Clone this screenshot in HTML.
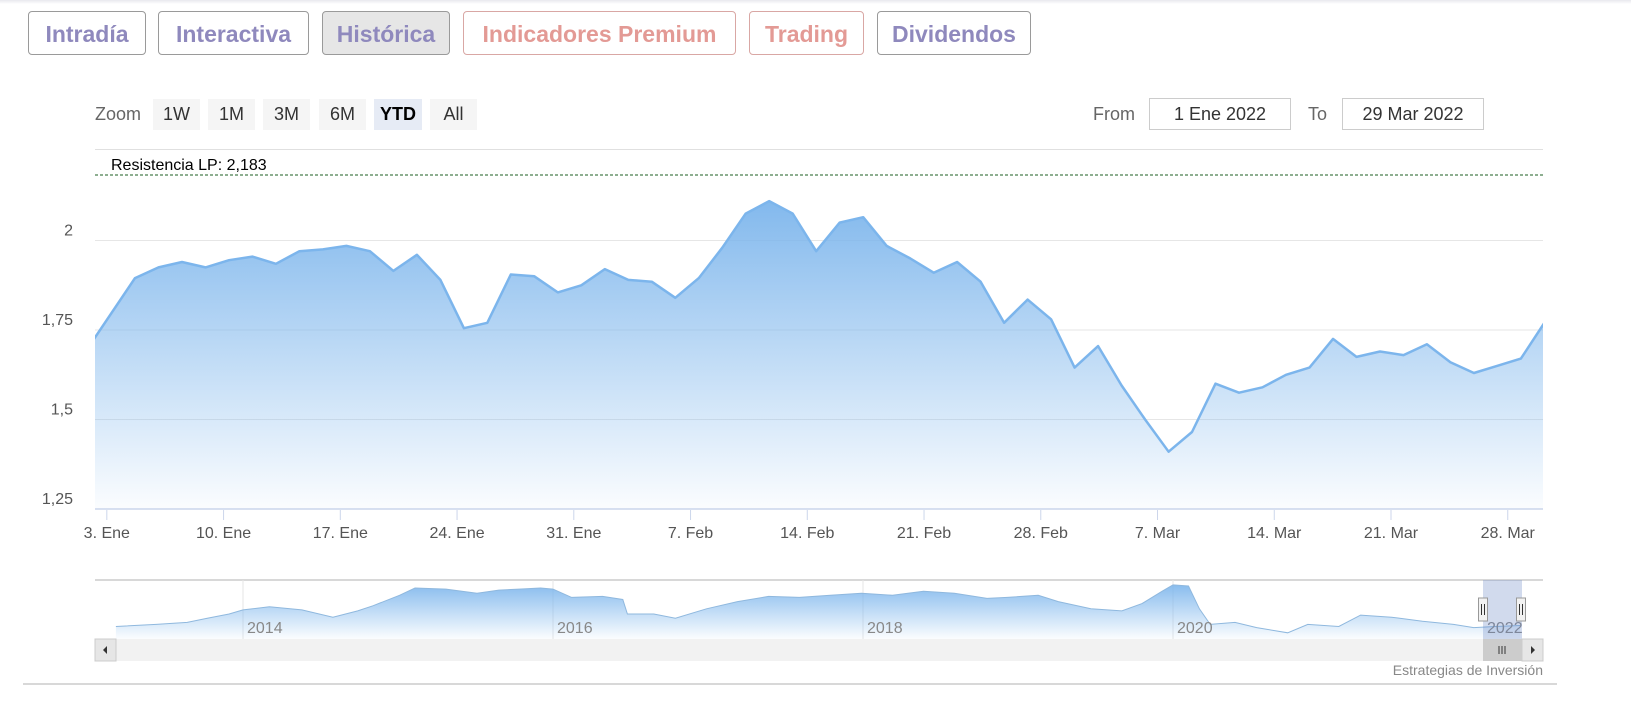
<!DOCTYPE html>
<html><head><meta charset="utf-8">
<style>
body{margin:0;width:1631px;height:714px;background:#fff;overflow:hidden;font-family:"Liberation Sans",sans-serif;position:relative}
.tab{position:absolute;top:11px;height:44px;border:1px solid #9a9a9a;border-radius:4px;box-sizing:border-box;font-weight:bold;font-size:23px;line-height:44px;text-align:center;color:#8f89bd;background:#fff}
.tab.red{color:#e39a95;border-color:#d9a7a4}
.tab.act{background:#e6e6e6}
.zb{position:absolute;top:99px;height:31px;background:#f5f5f5;font-size:18px;line-height:31px;text-align:center;color:#333}
.inp{position:absolute;top:98px;height:32px;border:1px solid #ccc;box-sizing:border-box;font-size:18px;line-height:30px;text-align:center;color:#333}
.lbl{position:absolute;top:99px;font-size:18px;line-height:31px;color:#666}
</style></head><body>
<div style="position:absolute;left:0;top:0;width:1631px;height:4px;background:linear-gradient(#e8e8ee,#fff)"></div>
<div class="tab" style="left:28px;width:118px">Intradía</div>
<div class="tab" style="left:158px;width:151px">Interactiva</div>
<div class="tab act" style="left:322px;width:128px">Histórica</div>
<div class="tab red" style="left:463px;width:273px">Indicadores Premium</div>
<div class="tab red" style="left:749px;width:115px">Trading</div>
<div class="tab" style="left:877px;width:154px">Dividendos</div>

<div class="lbl" style="left:95px">Zoom</div>
<div class="zb" style="left:153px;width:47px">1W</div>
<div class="zb" style="left:208px;width:47px">1M</div>
<div class="zb" style="left:263px;width:47px">3M</div>
<div class="zb" style="left:319px;width:47px">6M</div>
<div class="zb" style="left:374px;width:48px;background:#e6ebf5;color:#000;font-weight:bold">YTD</div>
<div class="zb" style="left:430px;width:47px">All</div>
<div class="lbl" style="left:1093px">From</div>
<div class="inp" style="left:1149px;width:142px">1 Ene 2022</div>
<div class="lbl" style="left:1308px">To</div>
<div class="inp" style="left:1342px;width:142px">29 Mar 2022</div>

<svg id="c" width="1631" height="714" style="position:absolute;left:0;top:0">
<defs>
<linearGradient id="g" x1="0" y1="0" x2="0" y2="1"><stop offset="0" stop-color="#7cb5ec" stop-opacity="0.95"/><stop offset="1" stop-color="#7cb5ec" stop-opacity="0.03"/></linearGradient>
<linearGradient id="g2" x1="0" y1="0" x2="0" y2="1"><stop offset="0" stop-color="#7cb5ec" stop-opacity="0.9"/><stop offset="1" stop-color="#7cb5ec" stop-opacity="0.03"/></linearGradient>
<clipPath id="cp"><rect x="95" y="149" width="1448" height="361"/></clipPath>
<clipPath id="cp2"><rect x="95" y="580" width="1448" height="59"/></clipPath>
</defs>
</svg>
<div style="position:absolute;right:88px;top:662px;font-size:14px;color:#888">Estrategias de Inversión</div>
<div style="position:absolute;left:23px;top:683px;width:1534px;height:2px;background:#d8d8d8"></div>
<script>
const prices=[1.70,1.895,1.925,1.94,1.925,1.945,1.955,1.935,1.97,1.975,1.985,1.97,1.915,1.96,1.89,1.755,1.77,1.905,1.90,1.855,1.875,1.92,1.89,1.885,1.84,1.895,1.98,2.075,2.11,2.075,1.97,2.05,2.065,1.985,1.95,1.91,1.94,1.885,1.77,1.835,1.78,1.645,1.705,1.595,1.50,1.41,1.465,1.60,1.575,1.59,1.625,1.645,1.725,1.675,1.69,1.68,1.71,1.66,1.63,1.65,1.67,1.77];
const dayIndex=[-2,0,1,2,3,4,5,6,7,8,9,10,11,12,13,14,15,16,17,18,19,20,21,22,23,24,25,26,27,28,29,30,31,32,33,34,35,36,37,38,39,40,41,42,43,44,45,46,47,48,49,50,51,52,53,54,55,56,57,58,59,60];
const xTickLabels=["3. Ene","10. Ene","17. Ene","24. Ene","31. Ene","7. Feb","14. Feb","21. Feb","28. Feb","7. Mar","14. Mar","21. Mar","28. Mar"];
const xTickIndex=[-1.2,3.77,8.74,13.71,18.68,23.65,28.62,33.59,38.56,43.53,48.5,53.47,58.44];
const yTicks=[1.25,1.5,1.75,2];
const yTickLabels=["1,25","1,5","1,75","2"];
const resistance=2.183;
const navYears=[2013.18,2013.44,2013.64,2013.77,2013.91,2014.0,2014.17,2014.38,2014.58,2014.74,2014.84,2015.01,2015.11,2015.31,2015.51,2015.65,2015.78,2015.92,2016.0,2016.12,2016.32,2016.45,2016.48,2016.65,2016.79,2016.99,2017.19,2017.39,2017.59,2017.79,2017.99,2018.19,2018.39,2018.59,2018.80,2018.93,2019.13,2019.26,2019.47,2019.67,2019.80,2019.93,2020.0,2020.10,2020.17,2020.24,2020.40,2020.54,2020.74,2020.87,2021.07,2021.21,2021.41,2021.61,2021.81,2021.94,2022.08,2022.24];
const navValues=[12,14,16,20,24,28,31,28,21,27,32,42,49,48,44,47,48,49,48,40,41,38,24,24,20,29,36,41,40,42,44,42,46,44,39,40,42,36,29,27,34,46,52,51,29,14,16,11,6,14,12,23,21,17,14,11,12,13];
const navYearLabels=["2014","2016","2018","2020","2022"];
const navYearTicks=[2014,2016,2018,2020,2022];

const NS="http://www.w3.org/2000/svg",svg=document.getElementById('c');
function mk(t,a,p){const e=document.createElementNS(NS,t);for(const k in a)e.setAttribute(k,a[k]);(p||svg).appendChild(e);return e;}
const X=i=>135+i*23.49;
const Y=v=>509-(v-1.25)/0.25*89.5;
const NX=y=>243+(y-2014)*155;
const NY=v=>639-v*1.04;

let e;
e=mk('line',{x1:95,x2:1543,y1:149.5,y2:149.5,stroke:'#e0e0e0'});


yTicks.forEach((v,k)=>{
 e=mk('line',{x1:95,x2:1543,y1:Y(v),y2:Y(v),stroke:k==0?'#ccd6eb':'#e6e6e6','stroke-width':k==0?1.5:1});
 
 
 e=mk('text',{x:73,y:Y(v)-5,'text-anchor':'end','font-size':16,fill:'#555'});e.textContent=yTickLabels[k];
 
 
});
const g=mk('g',{'clip-path':'url(#cp)'});
let d='';prices.forEach((v,i)=>{d+=(i?'L':'M')+X(dayIndex[i]).toFixed(1)+','+Y(v).toFixed(1);});
e=mk('path',{d:d+'L'+X(dayIndex[dayIndex.length-1])+',509L'+X(dayIndex[0])+',509Z',fill:'url(#g)'},g);


e=mk('path',{d:d,fill:'none',stroke:'#7cb5ec','stroke-width':2.5,'stroke-linejoin':'round'},g);


e=mk('line',{x1:95,x2:1543,y1:Y(resistance),y2:Y(resistance),stroke:'#1b5e20','stroke-dasharray':'3,2','stroke-width':1});


e=mk('text',{x:111,y:Y(resistance)-5,'font-size':16,fill:'#000'});e.textContent='Resistencia LP: '+String(resistance).replace('.',',');


xTickLabels.forEach((t,k)=>{
 const x=X(xTickIndex[k]);
 e=mk('line',{x1:x,x2:x,y1:510,y2:520,stroke:'#ccd6eb'});
 
 
 e=mk('text',{x:x,y:538,'text-anchor':'middle','font-size':16,fill:'#555'});e.textContent=t;
 
 
});
e=mk('line',{x1:95,x2:1543,y1:580,y2:580,stroke:'#ccc','stroke-width':1.5});


navYearTicks.forEach((y,k)=>{
 const x=NX(y);
 if(k<4){e=mk('line',{x1:x,x2:x,y1:580,y2:639,stroke:'#e6e6e6'});
 
 }
});
const g2=mk('g',{'clip-path':'url(#cp2)'});
let nd='';navValues.forEach((v,i)=>{nd+=(i?'L':'M')+NX(navYears[i]).toFixed(1)+','+NY(v).toFixed(1);});
e=mk('path',{d:nd+'L'+NX(navYears[navYears.length-1])+',639L'+NX(navYears[0])+',639Z',fill:'url(#g2)'},g2);


e=mk('path',{d:nd,fill:'none',stroke:'#8fb8de','stroke-width':1},g2);


navYearTicks.forEach((y,k)=>{
 e=mk('text',{x:NX(y)+4,y:633,'font-size':16,fill:'#888'});e.textContent=navYearLabels[k];
 
 
});
e=mk('rect',{x:1483,y:580,width:39,height:59,fill:'rgba(102,133,194,0.3)'});


[1483,1521].forEach(x=>{
 e=mk('rect',{x:x-4.5,y:598,width:9,height:23,fill:'#f2f2f2',stroke:'#999'});
 
 
 mk('line',{x1:x-1.5,x2:x-1.5,y1:604,y2:615,stroke:'#333'});mk('line',{x1:x+1.5,x2:x+1.5,y1:604,y2:615,stroke:'#333'});
});
e=mk('rect',{x:95,y:639,width:1448,height:22,fill:'#f2f2f2'});


e=mk('rect',{x:95,y:639,width:21,height:22,fill:'#e6e6e6',stroke:'#ccc'});


mk('path',{d:'M103,650L107,646L107,654Z',fill:'#333'});
e=mk('rect',{x:1483,y:639,width:39,height:22,fill:'#ccc'});


[1499,1502,1505].forEach(x=>mk('line',{x1:x,x2:x,y1:646,y2:654,stroke:'#333'}));
e=mk('rect',{x:1522,y:639,width:21,height:22,fill:'#e6e6e6',stroke:'#ccc'});


mk('path',{d:'M1535,650L1531,646L1531,654Z',fill:'#333'});
</script>
</body></html>
